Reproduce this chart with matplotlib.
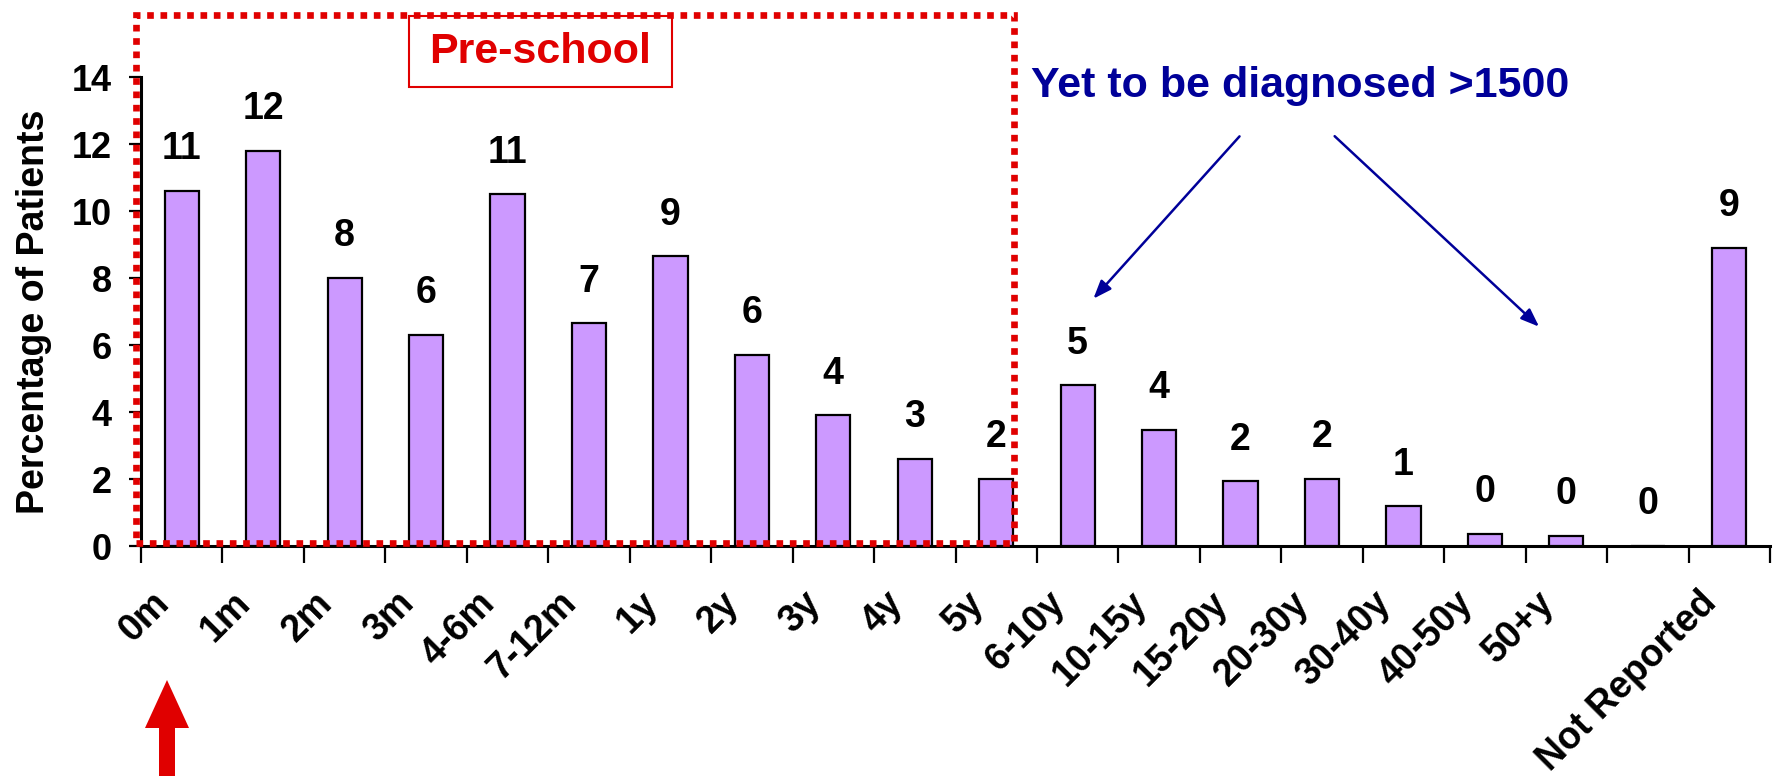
import matplotlib
matplotlib.use("Agg")
import matplotlib.pyplot as plt
from matplotlib.patches import Rectangle, Polygon
from matplotlib.transforms import IdentityTransform, ScaledTranslation

plt.rcParams['font.family'] = ['Liberation Sans', 'DejaVu Sans']
plt.rcParams['font.weight'] = 'bold'

categories = ["0m", "1m", "2m", "3m", "4-6m", "7-12m", "1y", "2y", "3y", "4y", "5y",
              "6-10y", "10-15y", "15-20y", "20-30y", "30-40y", "40-50y", "50+y", "", "Not Reported"]
values = [10.6, 11.8, 8.0, 6.3, 10.5, 6.65, 8.65, 5.7, 3.9, 2.6, 2.0,
          4.8, 3.47, 1.93, 2.0, 1.18, 0.37, 0.3, 0.0, 8.9]
labels = ["11", "12", "8", "6", "11", "7", "9", "6", "4", "3", "2",
          "5", "4", "2", "2", "1", "0", "0", "0", "9"]
yticks = [0, 2, 4, 6, 8, 10, 12, 14]

W, H = 1773, 776
fig = plt.figure(figsize=(W / 100, H / 100), dpi=100)
ax = fig.add_axes([141 / W, 1 - 546 / H, (1770 - 141) / W, (546 - 77) / H])

x = list(range(len(categories)))
ax.bar(x, values, width=0.42, color='#CC99FF', edgecolor='black', linewidth=1.6, zorder=3)

for xi, v, lab in zip(x, values, labels):
    ax.annotate(lab, (xi, v), xytext=(0, 30), textcoords='offset points',
                ha='center', va='center', fontsize=27, fontweight='bold', clip_on=False)

ax.set_xlim(-0.5, len(categories) - 0.5)
ax.set_ylim(0, 14)
ax.set_yticks(yticks)
ax.set_yticklabels([str(t) for t in yticks], fontsize=26, fontweight='bold')
ax.tick_params(axis='y', direction='out', length=9, width=1.6, pad=12)

ax.set_xticks(x)
ax.set_xticklabels(categories, rotation=45, ha='right', va='center',
                   rotation_mode='anchor', fontsize=27, fontweight='bold')
ax.tick_params(axis='x', which='major', length=0, pad=37)
shift = ScaledTranslation(-0.18, 0.0, fig.dpi_scale_trans)
for lab in ax.get_xticklabels():
    lab.set_transform(lab.get_transform() + shift)
ax.set_xticks([i - 0.5 for i in range(len(categories) + 1)], minor=True)
ax.tick_params(axis='x', which='minor', direction='out', length=12, width=1.6)

for s in ['top', 'right']:
    ax.spines[s].set_visible(False)
for s in ['left', 'bottom']:
    ax.spines[s].set_linewidth(2.2)
    ax.spines[s].set_color('black')

ax.set_ylabel("Percentage of Patients", fontsize=27, fontweight='bold', labelpad=14)

# Pre-school label box
box = Rectangle((2.79, 13.69), 3.23, 2.14, facecolor='white', edgecolor='#E00000',
                linewidth=1.5, clip_on=False, zorder=4)
ax.add_patch(box)
ax.text(4.405, 14.74, "Pre-school", ha='center', va='center', fontsize=31,
        fontweight='bold', color='#E00000', zorder=6, clip_on=False)

# Pre-school dotted rectangle
rect = Rectangle((-0.56, 0.09), 10.78, 15.75, fill=False, edgecolor='#E00000',
                 linewidth=4.8, linestyle=(0, (1.0, 1.0)), clip_on=False, zorder=5)
ax.add_patch(rect)

# Yet to be diagnosed annotation
ax.text(10.43, 13.72, "Yet to be diagnosed >1500", ha='left', va='center', fontsize=31,
        fontweight='bold', color='#000099', clip_on=False)
arrow_kw = dict(arrowstyle='-|>,head_length=1.1,head_width=0.42', color='#000099', linewidth=1.8)
ax.annotate("", xy=(11.17, 7.32), xytext=(13.01, 12.29), arrowprops=arrow_kw, annotation_clip=False)
ax.annotate("", xy=(16.69, 6.49), xytext=(14.13, 12.29), arrowprops=arrow_kw, annotation_clip=False)

# Red upward arrow at bottom-left (figure pixels, origin bottom-left)
cx, tip = 167, H - 680
hl, hw, sw = 48, 22, 8
pts = [(cx, tip), (cx + hw, tip - hl), (cx + sw, tip - hl), (cx + sw, -20),
       (cx - sw, -20), (cx - sw, tip - hl), (cx - hw, tip - hl)]
fig.patches.append(Polygon(pts, closed=True, facecolor='#E00000', edgecolor='none',
                           transform=IdentityTransform(), figure=fig))

fig.savefig("out.png", dpi=100)
